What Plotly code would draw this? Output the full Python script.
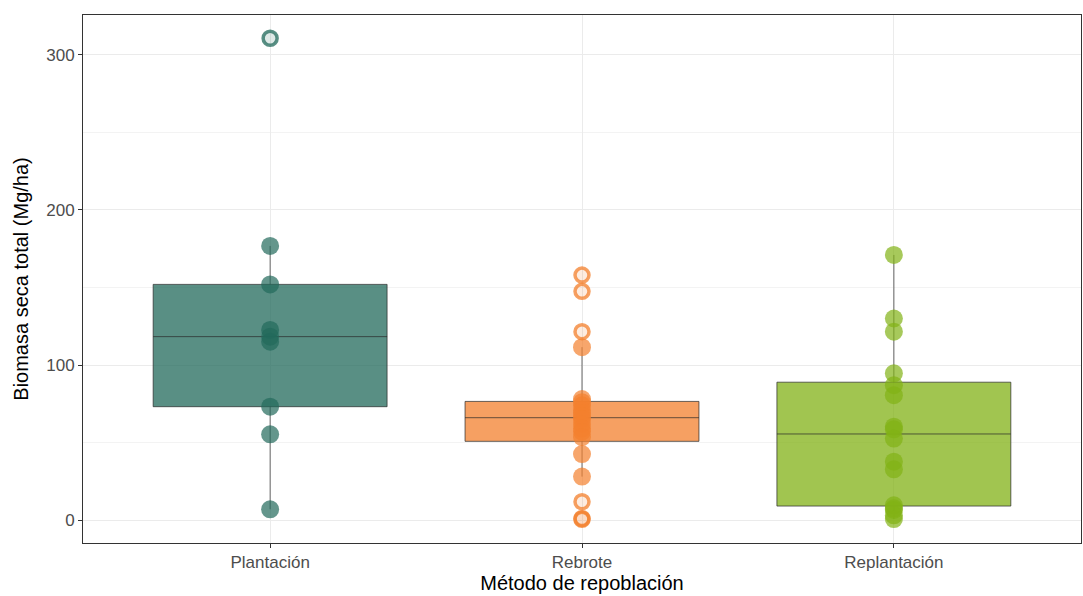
import numpy as np
import plotly.graph_objects as go

categories = ["Plantación", "Rebrote", "Replantación"]

plantacion = [310.8, 176.8, 152.0, 122.6, 118.3, 115.0, 73.1, 55.3, 6.9]
rebrote = [158.0, 147.5, 121.5, 111.5, 78.0, 76.0, 74.0, 71.0, 69.0, 67.0,
           65.0, 62.0, 59.0, 57.0, 53.5, 42.5, 28.0, 11.8, 1.0, 0.5]
replantacion = [171.0, 130.0, 121.5, 94.6, 87.0, 80.5, 60.2, 58.5, 52.5,
                37.6, 32.7, 9.5, 7.5, 6.5, 3.0, 0.6]

series = [plantacion, rebrote, replantacion]
colors = [(34, 106, 91), (243, 128, 46), (130, 178, 22)]

y_ticks = [0, 100, 200, 300]

fig = go.Figure()


def rgba(c, a):
    return "rgba(%d,%d,%d,%.2f)" % (c[0], c[1], c[2], a)


stats = []
for i, vals in enumerate(series):
    v = np.array(vals, dtype=float)
    q1, med, q3 = np.percentile(v, [25, 50, 75])
    iqr = q3 - q1
    lo, hi = q1 - 1.5 * iqr, q3 + 1.5 * iqr
    inside = v[(v >= lo) & (v <= hi)]
    out = v[(v < lo) | (v > hi)]
    stats.append((inside, out))
    fig.add_trace(go.Box(
        x=[i + 1], q1=[q1], median=[med], q3=[q3],
        lowerfence=[inside.min()], upperfence=[inside.max()],
        boxpoints=False, width=0.75, whiskerwidth=0,
        fillcolor=rgba(colors[i], 0.75),
        line=dict(color="rgba(40,40,40,1)", width=0.7),
        showlegend=False, hoverinfo="skip",
    ))

for i, (inside, out) in enumerate(stats):
    fig.add_trace(go.Scatter(
        x=[i + 1] * len(inside), y=inside, mode="markers",
        marker=dict(size=18, color=rgba(colors[i], 0.7), line=dict(width=0)),
        showlegend=False, hoverinfo="skip",
    ))
    fig.add_trace(go.Scatter(
        x=[i + 1] * len(out), y=out, mode="markers",
        marker=dict(size=14, color=rgba(colors[i], 0.15),
                    line=dict(width=3.5, color=rgba(colors[i], 0.75))),
        showlegend=False, hoverinfo="skip",
    ))

font_family = "Liberation Sans, Arial, sans-serif"
fig.update_layout(
    width=1083, height=596, autosize=False,
    margin=dict(l=83, r=2, t=15, b=53),
    paper_bgcolor="white", plot_bgcolor="white",
    font=dict(family=font_family),
    xaxis=dict(
        range=[0.4, 3.6], tickvals=[1, 2, 3], ticktext=categories,
        automargin=False,
        showgrid=True, gridcolor="#EBEBEB", gridwidth=1.1,
        zeroline=False, showline=True, linecolor="#333333", linewidth=1,
        mirror=True, ticks="outside", ticklen=4, tickcolor="#333333",
        tickfont=dict(size=17, color="#4D4D4D"),
        title=dict(text="Método de repoblación", font=dict(size=20, color="black"),
                   standoff=2),
    ),
    yaxis=dict(
        range=[-14.84, 325.8], tickvals=y_ticks,
        automargin=False,
        showgrid=True, gridcolor="#EBEBEB", gridwidth=1.1,
        minor=dict(dtick=50, tick0=0, showgrid=True, gridcolor="#F3F3F3", gridwidth=0.6),
        zeroline=False, showline=True, linecolor="#333333", linewidth=1,
        mirror=True, ticks="outside", ticklen=4, tickcolor="#333333",
        tickfont=dict(size=17, color="#4D4D4D"),
        title=dict(text="Biomasa seca total (Mg/ha)", font=dict(size=20, color="black"),
                   standoff=12),
    ),
)

fig.write_html(
    "out.html",
    config={"responsive": False, "displayModeBar": False},
    post_script="document.body.style.margin='0';document.body.style.overflow='hidden';",
)
